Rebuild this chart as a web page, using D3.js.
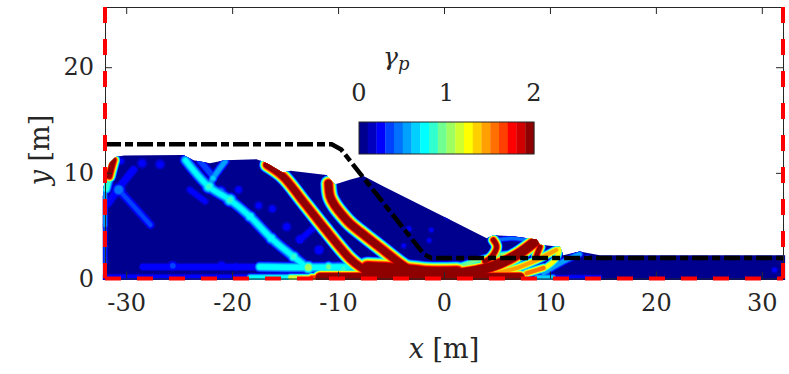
<!DOCTYPE html>
<html>
<head>
<meta charset="utf-8">
<script src="https://cdn.jsdelivr.net/npm/d3@7"></script>
<style>
  html, body { margin: 0; background: #fff; }
  text { fill: #262626; }
</style>
</head>
<body>
<svg id="chart" width="789" height="374"></svg>
<script>
const xTicks = [-30, -20, -10, 0, 10, 20, 30];
const yTicks = [0, 10, 20];
const gammaTicks = [0, 1, 2];

// jet colormap, 20 levels as on the colorbar
const jet = ["#00008f", "#0000be", "#0000ff", "#0040ff", "#0070ff", "#00a0ff", "#00d0ff",
  "#00ffff", "#30ffd0", "#70ff90", "#a0ff60", "#d0ff30", "#ffff00", "#ffd000", "#ffa000",
  "#ff7000", "#ff4000", "#ff0000", "#d00000", "#8f0000"];

// deposit outline [x, y] in m
const surface = [[-32.2, -0.15], [-32.2, 7.8], [-32, 9.8], [-31.6, 10.9], [-31, 11.5], [-30.2, 11.65], [-24.6, 11.7], [-23.65, 11.2],
  [-22.1, 10.9], [-20.7, 11.2], [-17.7, 11.3], [-16.7, 10.9], [-15.2, 10], [-14.5, 10.2], [-11.1, 9.8],
  [-10.3, 8.9], [-8.9, 9.34], [-7.6, 9.7], [-5.7, 8.7], [-1.6, 6.65], [0.9, 5.4], [4.03, 3.8], [4.66, 4.1],
  [6.5, 4], [8.75, 3.7], [9.06, 3.2], [10.95, 3], [11.26, 2.2], [12.8, 2.55], [14.7, 2.2], [32.2, 2.2], [32.2, -0.15]];

// initial slope profile
const profile = [[-32, 12.7], [-10.6, 12.7], [-9.7, 12.2], [-1.9, 2.3], [-1.2, 1.95], [32, 1.95]];

// shear bands: peak gamma, thickness in m, centre line
const bands = [
  { g: 2.1, t: 1.6, pts: [[-16.7, 10.76], [-15.2, 9.66], [-13.3, 7.3], [-11.4, 4.9], [-8.9, 1.9], [-7.8, 1]] },
  { g: 2.1, t: 1.7, pts: [[-10.9, 9], [-10.75, 7.76], [-10.3, 6.9], [-9.6, 6], [-8.87, 5.2], [-7.9, 4.4], [-6, 2.9], [-4.15, 1.44], [-3.2, 0.8]] },
  { g: 2.6, t: 2.5, pts: [[-7.2, 0.9], [-4.46, 0.75], [-1.63, 0.45], [1.2, 0.45]] },
  { g: 2.5, t: 1.7, pts: [[1.2, 0.45], [4.34, 1.06], [6.86, 2.23], [8.6, 3.5]] },
  { g: 2.5, t: 1.6, pts: [[-11.7, 0.1], [-4, 0.1], [2.5, 0.1], [7.17, 0.1]] },
  { g: 0.3, t: 0.9, pts: [[-32, 0.1], [-18.3, 0.1]] },
  { g: 0.8, t: 0.9, pts: [[-18.3, 0.1], [-14.5, 0.1]] },
  { g: 1.2, t: 0.9, pts: [[-14.5, 0.1], [-12.5, 0.1]] },
  { g: 1.7, t: 1, pts: [[-12.5, 0.1], [-11.7, 0.1]] },
  { g: 0.8, t: 1.2, pts: [[-17.4, 1.1], [-13, 1.05], [-8.9, 1.1]] },
  { g: 0.28, t: 1, pts: [[-28.4, 1.1], [-17.7, 1.1]] },
  { g: 0.72, t: 1.25, pts: [[-24.4, 11.2], [-22.2, 8.7], [-20.2, 7.44], [-18.3, 5.86], [-16.3, 3.8], [-14.2, 2.07], [-13, 1.1]] },
  { g: 0.55, t: 1, pts: [[-20.66, 11.08], [-21.8, 9.5], [-22.2, 8.7]] },
  { g: 0.4, t: 1, pts: [[-23, 11.1], [-21.8, 9.66]] },
  { g: 2, t: 1.4, pts: [[-31.2, 11.2], [-31.45, 10.3], [-31.6, 9.7]] },
  { g: 0.9, t: 1.2, pts: [[-31.6, 9.7], [-31.9, 8.5]] },
  { g: 0.55, t: 0.7, pts: [[-32, 8.5], [-32, 5]] },
  { g: 0.35, t: 0.7, pts: [[-32, 5], [-32, 1.5]] },
  { g: 0.33, t: 1.1, pts: [[-30.7, 8.4], [-28.8, 6.3], [-27.7, 5.07]] },
  { g: 0.3, t: 1.1, pts: [[-29.3, 10.3], [-30.7, 8.55], [-31.7, 7.1]] },
  { g: 0.25, t: 1, pts: [[-24, 8.4], [-22.55, 7.3]] },
  { g: 0.25, t: 1, pts: [[-12, 5.07], [-13.6, 3.65]] },
  { g: 1.95, t: 1.2, pts: [[4.66, 3.65], [4.97, 3], [4.5, 2.07], [3.87, 1.6]] },
  { g: 0.45, t: 0.7, pts: [[5, 3.65], [6.5, 3.8], [8.4, 3.5]] },
  { g: 1, t: 0.85, pts: [[0.57, 0.8], [2.77, 1.6], [4.34, 2.07], [5.9, 2.3]] },
  { g: 1.1, t: 0.8, pts: [[-2.9, 1], [-0.5, 1]] },
  { g: 1.5, t: 1, pts: [[4.97, 0.5], [7.17, 1.1], [9.06, 1.9], [10.6, 2.7]] },
  { g: 1.6, t: 1, pts: [[7.8, 0.5], [9.4, 1]] },
  { g: 1.95, t: 1.2, pts: [[9.06, 3], [8.75, 2.2]] },
  { g: 1.3, t: 0.9, pts: [[10.95, 2.85], [10.6, 1.9], [9.7, 1.1]] },
  { g: 0.6, t: 0.85, pts: [[9.4, 0.5], [11.26, 1.6], [12.8, 2.3]] },
  { g: 0.7, t: 0.8, pts: [[8.75, 0.1], [10.3, 0.1]] },
  { g: 0.3, t: 0.7, pts: [[10.3, 0.1], [14.7, 0.1]] }
];

// small blobs: x, y, peak gamma, diameter in m
const blobs = [[-22.2, 8.7, 0.85, 1.6], [-20.2, 7.44, 0.85, 1.6], [-21.8, 9.5, 0.7, 1], [-12.8, 1.05, 1.1, 1.5],
  [-30.7, 8.4, 0.5, 1.6], [-28.4, 1.1, 0.3, 1], [-25.6, 1.2, 0.35, 1.3], [-21, 1.2, 0.3, 1.3], [-19.6, 1.1, 0.3, 1.1],
  [-21.1, 8.2, 0.45, 1.5], [-14.85, 4.9, 0.25, 1.3], [-19.4, 8.4, 0.25, 1.2], [-17.5, 6.9, 0.25, 1.2], [-16.2, 6.6, 0.25, 1.2],
  [-28.5, 10.9, 0.25, 1.4], [-26.8, 10.8, 0.25, 1.4], [-30.5, 11.1, 0.25, 1.1], [-11.8, 2.7, 0.3, 1.3], [-13.6, 3.7, 0.3, 1.2],
  [-1.4, 3.6, 0.25, 0.8], [-3.3, 4.7, 0.25, 0.9], [-3.8, 3.1, 0.25, 0.8], [-1.2, 4.6, 0.25, 0.8], [0.3, 5.8, 0.2, 0.9],
  [-9.5, 0.9, 0.9, 1.3], [-10.9, 1.1, 0.95, 1.3], [-16.6, 1.1, 0.75, 1.2], [31.2, 0.8, 0.25, 0.9], [13.5, 2, 0.4, 0.8],
  [-18.3, 5.86, 0.8, 1.4], [-16.3, 3.8, 0.8, 1.4], [-14.2, 2.07, 0.85, 1.4]];

const plot = { left: 105, right: 783, top: 7, bottom: 278.5 };

const x = d3.scaleLinear().domain([-32, 32]).range([plot.left, plot.right]);
const y = d3.scaleLinear().domain([0, 25.7]).range([plot.bottom, plot.top]);
const color = d3.scaleQuantize().domain([0, 2]).range(jet);
const metres = d3.scaleLinear().domain([0, 64]).range([0, plot.right - plot.left]);

// cross-band falloff of gamma
const falloff = (v, g) => Math.pow(1 - v / (g * 1.2), 0.7);

const svg = d3.select("#chart");
const defs = svg.append("defs");

defs.append("clipPath").attr("id", "deposit")
  .append("path")
  .attr("d", d3.line().x(d => x(d[0])).y(d => y(d[1]))(surface));

defs.append("filter").attr("id", "soft")
  .attr("x", "-2%").attr("y", "-2%").attr("width", "104%").attr("height", "104%")
  .append("feGaussianBlur").attr("stdDeviation", 0.7);

const field = svg.append("g").attr("filter", "url(#soft)")
  .append("g").attr("clip-path", "url(#deposit)");

field.append("rect")
  .attr("x", 90).attr("y", plot.top)
  .attr("width", 710).attr("height", 290)
  .attr("fill", jet[0]);

const bandLine = d3.line().x(d => x(d[0])).y(d => y(d[1])).curve(d3.curveCatmullRom);

// contour bands drawn level by level so overlaps keep the higher gamma
d3.range(1, 20).forEach(level => {
  const v = level * 0.1;
  const g = field.append("g").attr("fill", "none").attr("stroke", color(v + 0.01))
    .attr("stroke-linecap", "round").attr("stroke-linejoin", "round");

  g.selectAll("path")
    .data(bands.filter(d => d.g > v))
    .enter()
    .append("path")
    .attr("d", d => bandLine(d.pts))
    .attr("stroke-width", d => metres(d.t * falloff(v, d.g)));

  field.append("g").selectAll("circle")
    .data(blobs.filter(d => d[2] > v))
    .enter()
    .append("circle")
    .attr("cx", d => x(d[0]))
    .attr("cy", d => y(d[1]))
    .attr("r", d => metres(d[3] * falloff(v, d[2])) / 2)
    .attr("fill", color(v + 0.01));
});

// slope profile, dash-dot
svg.append("path")
  .attr("d", d3.line().x(d => x(d[0])).y(d => y(d[1]))(profile))
  .attr("fill", "none")
  .attr("stroke", "#000")
  .attr("stroke-width", 4.5)
  .attr("stroke-dasharray", "16,4,8,4");

// axes
const xAxis = svg.append("g")
  .attr("transform", `translate(0,${plot.bottom})`)
  .call(d3.axisBottom(x).tickValues(xTicks).tickFormat(d => d).tickSizeInner(-7).tickSizeOuter(0).tickPadding(15));
const yAxis = svg.append("g")
  .attr("transform", `translate(${plot.left},0)`)
  .call(d3.axisLeft(y).tickValues(yTicks).tickFormat(d => d).tickSizeInner(-7).tickSizeOuter(0).tickPadding(11));

[xAxis, yAxis].forEach(a => {
  a.selectAll("text").style("font-size", "24px");
  a.selectAll("line, path").attr("stroke", "#262626");
});

// box: mirrored ticks on top and right
svg.append("g")
  .attr("transform", `translate(0,${plot.top})`)
  .call(d3.axisTop(x).tickValues(xTicks).tickFormat("").tickSizeInner(-7).tickSizeOuter(0))
  .selectAll("line, path").attr("stroke", "#262626");
svg.append("g")
  .attr("transform", `translate(${plot.right},0)`)
  .call(d3.axisRight(y).tickValues(yTicks).tickFormat("").tickSizeInner(-7).tickSizeOuter(0))
  .selectAll("line, path").attr("stroke", "#262626");

// red domain boundary
const redSides = [
  [[-32, 25.7], [-32, 0]],
  [[-32, 0], [32, 0]],
  [[32, 25.7], [32, 0]]
];
svg.append("g").selectAll("path")
  .data(redSides)
  .enter()
  .append("path")
  .attr("d", d3.line().x(d => x(d[0])).y(d => y(d[1])))
  .attr("fill", "none")
  .attr("stroke", "#ff0000")
  .attr("stroke-width", 4)
  .attr("stroke-dasharray", "16,16");

// axis labels
const xLabel = svg.append("text")
  .attr("x", 444).attr("y", 358)
  .attr("text-anchor", "middle")
  .style("font-size", "27px");
xLabel.append("tspan").style("font-style", "italic").text("x");
xLabel.append("tspan").text(" [m]");

const yLabel = svg.append("text")
  .attr("transform", "translate(49,150) rotate(-90)")
  .attr("text-anchor", "middle")
  .style("font-size", "27px");
yLabel.append("tspan").style("font-style", "italic").text("y");
yLabel.append("tspan").text(" [m]");

// colorbar
const cbar = { x: 359, y: 122, w: 175, h: 32 };
const cbarX = d3.scaleLinear().domain([0, 2]).range([cbar.x, cbar.x + cbar.w]);
const bins = d3.scaleBand().domain(d3.range(jet.length)).range([cbar.x, cbar.x + cbar.w]);

svg.append("g").selectAll("rect")
  .data(jet)
  .enter()
  .append("rect")
  .attr("x", (d, i) => bins(i))
  .attr("y", cbar.y)
  .attr("width", bins.bandwidth() + 0.3)
  .attr("height", cbar.h)
  .attr("fill", d => d);

svg.append("rect")
  .attr("x", cbar.x).attr("y", cbar.y)
  .attr("width", cbar.w).attr("height", cbar.h)
  .attr("fill", "none").attr("stroke", "#262626");

svg.append("g").selectAll("text")
  .data(gammaTicks)
  .enter()
  .append("text")
  .attr("x", d => cbarX(d))
  .attr("y", 101)
  .attr("text-anchor", "middle")
  .style("font-size", "24px")
  .text(d => d);

const gammaLabel = svg.append("text")
  .attr("x", 383).attr("y", 65)
  .style("font-size", "25px")
  .style("font-style", "italic");
gammaLabel.append("tspan").text("γ");
gammaLabel.append("tspan").attr("dy", 5).style("font-size", "18px").text("p");

svg.selectAll("text").style("font-family", "'DejaVu Serif'");
</script>
</body>
</html>
